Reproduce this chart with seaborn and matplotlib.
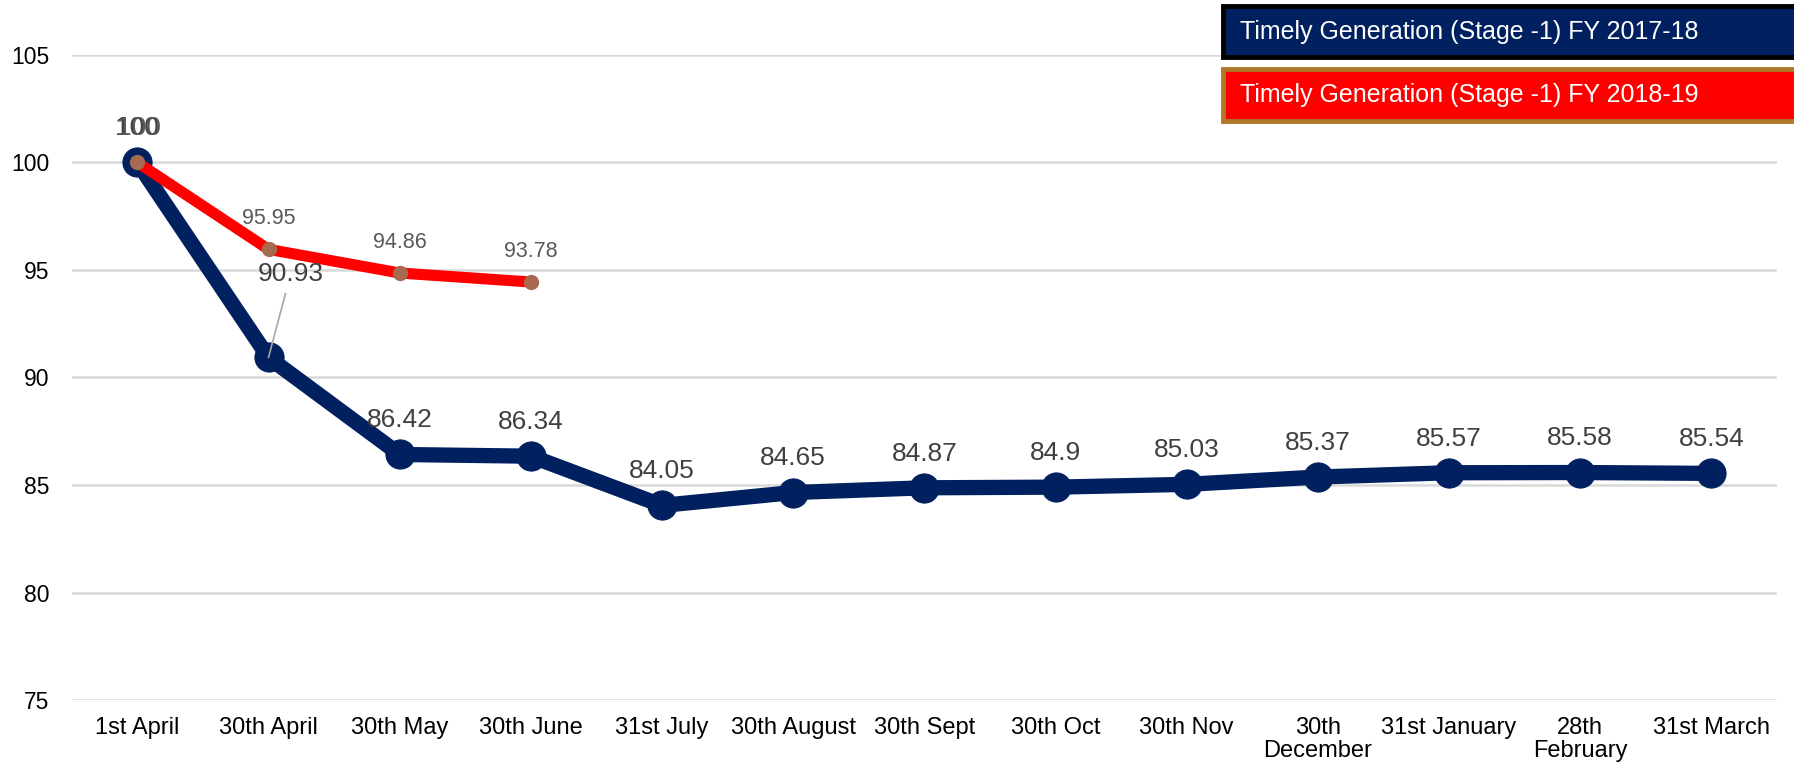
import pandas as pd
import matplotlib
matplotlib.use("Agg")
import matplotlib.pyplot as plt
import seaborn as sns
from matplotlib.patches import Rectangle

# chart data
dates = ["1st April", "30th April", "30th May", "30th June", "31st July", "30th August",
         "30th Sept", "30th Oct", "30th Nov", "30th\nDecember", "31st January",
         "28th\nFebruary", "31st March"]
fy1718 = [100, 90.93, 86.42, 86.34, 84.05, 84.65, 84.87, 84.9, 85.03, 85.37, 85.57, 85.58, 85.54]
fy1819 = [100, 95.96, 94.86, 94.44]
fy1819_labels = ["100", "95.95", "94.86", "93.78"]
series_names = ["Timely Generation (Stage -1) FY 2017-18", "Timely Generation (Stage -1) FY 2018-19"]

NAVY = "#002060"
RED = "#FF0000"
BROWN = "#A66A50"

sns.set_theme(style="white")
plt.rcParams['font.family'] = ['Liberation Sans', 'DejaVu Sans']

df1 = pd.DataFrame({"pos": range(len(fy1718)), "value": fy1718})
df2 = pd.DataFrame({"pos": range(len(fy1819)), "value": fy1819})

fig = plt.figure(figsize=(17.94, 7.70), dpi=100)
ax = fig.add_axes([0.040, 0.0909, 0.9505, 0.8377])

sns.lineplot(data=df1, x="pos", y="value", ax=ax, color=NAVY, linewidth=11,
             marker="o", markersize=21, markerfacecolor=NAVY, markeredgecolor=NAVY,
             solid_capstyle="round", zorder=3)
sns.lineplot(data=df2, x="pos", y="value", ax=ax, color=RED, linewidth=8,
             marker="o", markersize=11, markerfacecolor=BROWN, markeredgewidth=0,
             solid_capstyle="round", zorder=4)

ax.set_xlim(-0.5, len(dates) - 0.5)
ax.set_ylim(75, 105)
ax.set_yticks([75, 80, 85, 90, 95, 100, 105])
ax.set_xticks(range(len(dates)))
ax.set_xticklabels(dates, fontsize=17, color="black", linespacing=1.05)
ax.tick_params(axis="y", labelsize=16.5, labelcolor="black", pad=16, length=0)
ax.tick_params(axis="x", pad=12, length=0)
ax.set_xlabel("")
ax.set_ylabel("")
ax.grid(axis="y", color="#D9D9D9", linewidth=1.8)
ax.grid(axis="x", visible=False)
ax.set_axisbelow(True)
for s in ax.spines.values():
    s.set_visible(False)

# labels for FY 2017-18
for i, v in enumerate(fy1718):
    txt = f"{v:g}"
    if i == 1:
        ax.annotate(txt, (i, v), xytext=(16, 60), textcoords="offset points",
                    ha="center", va="center", fontsize=19, color="#404040",
                    arrowprops=dict(arrowstyle="-", color="#A6A6A6", lw=1.2,
                                    relpos=(0.45, 0.0), shrinkA=3, shrinkB=0),
                    zorder=6)
    else:
        ax.annotate(txt, (i, v), xytext=(0, 24.5), textcoords="offset points",
                    ha="center", va="center", fontsize=19, color="#404040", zorder=6)

# labels for FY 2018-19
for i, (v, t) in enumerate(zip(fy1819, fy1819_labels)):
    if i == 0:
        ax.annotate(t, (i, v), xytext=(1.5, 24.5), textcoords="offset points",
                    ha="center", va="center", fontsize=19, color="#595959", zorder=6)
    else:
        ax.annotate(t, (i, v), xytext=(0, 22), textcoords="offset points",
                    ha="center", va="center", fontsize=15.5, color="#595959", zorder=6)

# legend boxes at the top right
boxes = [(NAVY, "black", 0.926, 0.066), (RED, "#B07828", 0.843, 0.067)]
for (fc, ec, y0, h), name in zip(boxes, series_names):
    fig.patches.append(Rectangle((0.6815, y0), 0.33, h, transform=fig.transFigure,
                                 facecolor=fc, edgecolor=ec, linewidth=3.5, zorder=10))
    fig.text(0.691, y0 + h / 2, name, color="white", fontsize=18, va="center",
             ha="left", zorder=11)

fig.savefig("out.png", dpi=100)
